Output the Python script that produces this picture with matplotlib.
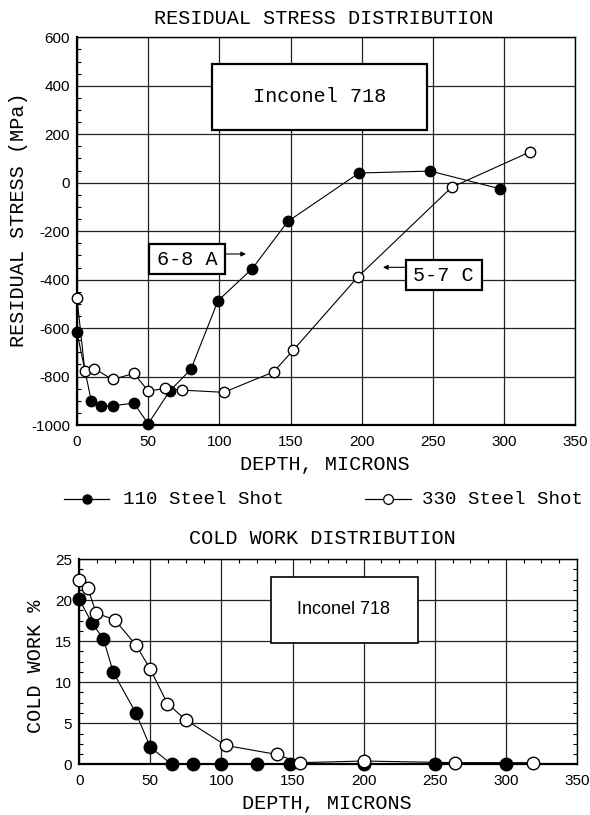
import matplotlib
matplotlib.use("Agg")
import matplotlib.pyplot as plt
from matplotlib.lines import Line2D
from matplotlib.patches import Rectangle
from matplotlib.ticker import AutoMinorLocator

plt.rcParams["axes.unicode_minus"] = False

# ---------------- data ----------------
rs_110_depth = [0, 10, 17, 25, 40, 50, 65, 80, 99, 123, 148, 198, 248, 297]
rs_110_stress = [-617, -900, -922, -920, -910, -995, -860, -770, -487, -355, -160, 40, 48, -25]
rs_330_depth = [0, 5.5, 12, 25, 40, 50, 62, 74, 103, 138, 152, 197, 263, 318]
rs_330_stress = [-477, -776, -767, -812, -787, -860, -849, -856, -865, -781, -690, -390, -19, 127]

cw_110_depth = [0, 9, 17, 24, 40, 50, 65, 80, 100, 125, 148, 200, 250, 300]
cw_110_pct = [20.1, 17.2, 15.3, 11.2, 6.2, 2.1, 0, 0, 0, 0, 0, 0.05, 0, 0]
cw_330_depth = [0, 6, 12, 25, 40, 50, 62, 75, 103, 139, 155, 200, 264, 319]
cw_330_pct = [22.4, 21.5, 18.4, 17.6, 14.5, 11.6, 7.4, 5.4, 2.3, 1.2, 0.2, 0.4, 0.2, 0.2]

x_ticks = [0, 50, 100, 150, 200, 250, 300, 350]
rs_ticks = [-1000, -800, -600, -400, -200, 0, 200, 400, 600]
cw_ticks = [0, 5, 10, 15, 20, 25]

series_labels = ["110 Steel Shot", "330 Steel Shot"]

MONO = "Liberation Mono"
MSIZE = 14.5
SANS = "Liberation Sans"

fig = plt.figure(figsize=(5.9, 8.15), dpi=100)

def style_axes(ax, xt, yt, minor_sides):
    ax.set_xticks(xt)
    ax.set_yticks(yt)
    ax.grid(True, which="major", color="#222222", lw=0.9)
    ax.set_axisbelow(True)
    for lab in ax.get_xticklabels() + ax.get_yticklabels():
        lab.set_fontfamily(SANS)
        lab.set_fontsize(11)
    ax.tick_params(axis="both", which="major", length=0)
    ax.tick_params(axis="x", which="major", pad=7)
    ax.tick_params(axis="y", which="major", pad=5)
    ax.tick_params(which="minor", direction="in", length=3, width=0.8,
                   **minor_sides)
    ax.spines["left"].set_linewidth(1.6)
    ax.spines["bottom"].set_linewidth(1.6)
    ax.spines["top"].set_linewidth(1.0)
    ax.spines["right"].set_linewidth(1.0)

# ---------------- top: residual stress ----------------
ax1 = fig.add_axes([0.1305, 0.4785, 0.8449, 0.4757])
ax1.plot(rs_110_depth, rs_110_stress, "-o", color="black", lw=0.8,
         ms=7.5, mfc="black", mec="black", zorder=3, clip_on=False)
ax1.plot(rs_330_depth, rs_330_stress, "-o", color="black", lw=0.8,
         ms=7.5, mfc="white", mec="black", mew=1.0, zorder=4, clip_on=False)
ax1.set_xlim(0, 350)
ax1.set_ylim(-1000, 600)
ax1.yaxis.set_minor_locator(AutoMinorLocator(4))
style_axes(ax1, x_ticks, rs_ticks,
           dict(left=True, right=False, top=False, bottom=False))
ax1.tick_params(axis="x", which="minor", length=0)

# annotation boxes
def box(ax, x0, y0, x1, y1, lw=1.6):
    ax.add_patch(Rectangle((x0, y0), x1 - x0, y1 - y0, transform=ax.transAxes,
                           fill=True, facecolor="white", edgecolor="black",
                           lw=lw, zorder=6))

box(ax1, 0.2718, 0.7609, 0.7017, 0.9311)
ax1.text(0.4875, 0.8468, "Inconel 718", transform=ax1.transAxes,
         ha="center", va="center", fontfamily=MONO, fontsize=MSIZE, zorder=7)
box(ax1, 0.1444, 0.3902, 0.2975, 0.4661)
ax1.text(0.2203, 0.4282, "6-8 A", transform=ax1.transAxes,
         ha="center", va="center", fontfamily=MONO, fontsize=MSIZE, zorder=7)
ax1.annotate("", xy=(0.339, 0.4411), xytext=(0.2975, 0.4411),
             xycoords="axes fraction",
             arrowprops=dict(arrowstyle="-|>", color="black", lw=0.8,
                             mutation_scale=7, shrinkA=0, shrinkB=0), zorder=7)
box(ax1, 0.660, 0.3482, 0.8124, 0.4248)
ax1.text(0.7358, 0.3861, "5-7 C", transform=ax1.transAxes,
         ha="center", va="center", fontfamily=MONO, fontsize=MSIZE, zorder=7)
ax1.annotate("", xy=(0.6138, 0.4068), xytext=(0.660, 0.4068),
             xycoords="axes fraction",
             arrowprops=dict(arrowstyle="-|>", color="black", lw=0.8,
                             mutation_scale=7, shrinkA=0, shrinkB=0), zorder=7)

fig.text(0.549, 0.9775, "RESIDUAL STRESS DISTRIBUTION", ha="center", va="center",
         fontfamily=MONO, fontsize=MSIZE)
fig.text(0.551, 0.4303, "DEPTH, MICRONS", ha="center", va="center",
         fontfamily=MONO, fontsize=MSIZE)
fig.text(0.031, 0.730, "RESIDUAL STRESS (MPa)", ha="center", va="center",
         rotation=90, fontfamily=MONO, fontsize=MSIZE)

# ---------------- legend ----------------
ly = 0.3874
LSIZE = 13.8
fig.add_artist(Line2D([64 / 590, 109.4 / 590], [ly, ly], color="black", lw=0.9,
                      transform=fig.transFigure))
fig.add_artist(Line2D([86.8 / 590], [ly], marker="o", ms=6.5, mfc="black",
                      mec="black", color="black", transform=fig.transFigure))
fig.text(0.2078, ly, series_labels[0], ha="left", va="center",
         fontfamily=MONO, fontsize=LSIZE)
fig.add_artist(Line2D([365 / 590, 410.6 / 590], [ly, ly], color="black", lw=0.9,
                      transform=fig.transFigure))
fig.add_artist(Line2D([387.5 / 590], [ly], marker="o", ms=7, mfc="white",
                      mec="black", mew=0.9, color="black",
                      transform=fig.transFigure))
fig.text(0.7145, ly, series_labels[1], ha="left", va="center",
         fontfamily=MONO, fontsize=LSIZE)

# ---------------- bottom: cold work ----------------
ax2 = fig.add_axes([0.1342, 0.0622, 0.8437, 0.2519])
ax2.plot(cw_110_depth, cw_110_pct, "-o", color="black", lw=0.8,
         ms=9, mfc="black", mec="black", zorder=3, clip_on=False)
ax2.plot(cw_330_depth, cw_330_pct, "-o", color="black", lw=0.8,
         ms=9, mfc="white", mec="black", mew=1.0, zorder=4, clip_on=False)
ax2.set_xlim(0, 350)
ax2.set_ylim(0, 25)
ax2.xaxis.set_minor_locator(AutoMinorLocator(4))
ax2.yaxis.set_minor_locator(AutoMinorLocator(4))
style_axes(ax2, x_ticks, cw_ticks,
           dict(left=True, right=True, top=True, bottom=False))

box(ax2, 0.3853, 0.5923, 0.680, 0.9109, lw=1.2)
ax2.text(0.532, 0.755, "Inconel 718", transform=ax2.transAxes,
         ha="center", va="center", fontfamily=SANS, fontsize=13, zorder=7)

fig.text(0.546, 0.3395, "COLD WORK DISTRIBUTION", ha="center", va="center",
         fontfamily=MONO, fontsize=MSIZE)
fig.text(0.554, 0.0144, "DEPTH, MICRONS", ha="center", va="center",
         fontfamily=MONO, fontsize=MSIZE)
fig.text(0.061, 0.183, "COLD WORK %", ha="center", va="center",
         rotation=90, fontfamily=MONO, fontsize=MSIZE)

fig.savefig("out.png", dpi=100)
